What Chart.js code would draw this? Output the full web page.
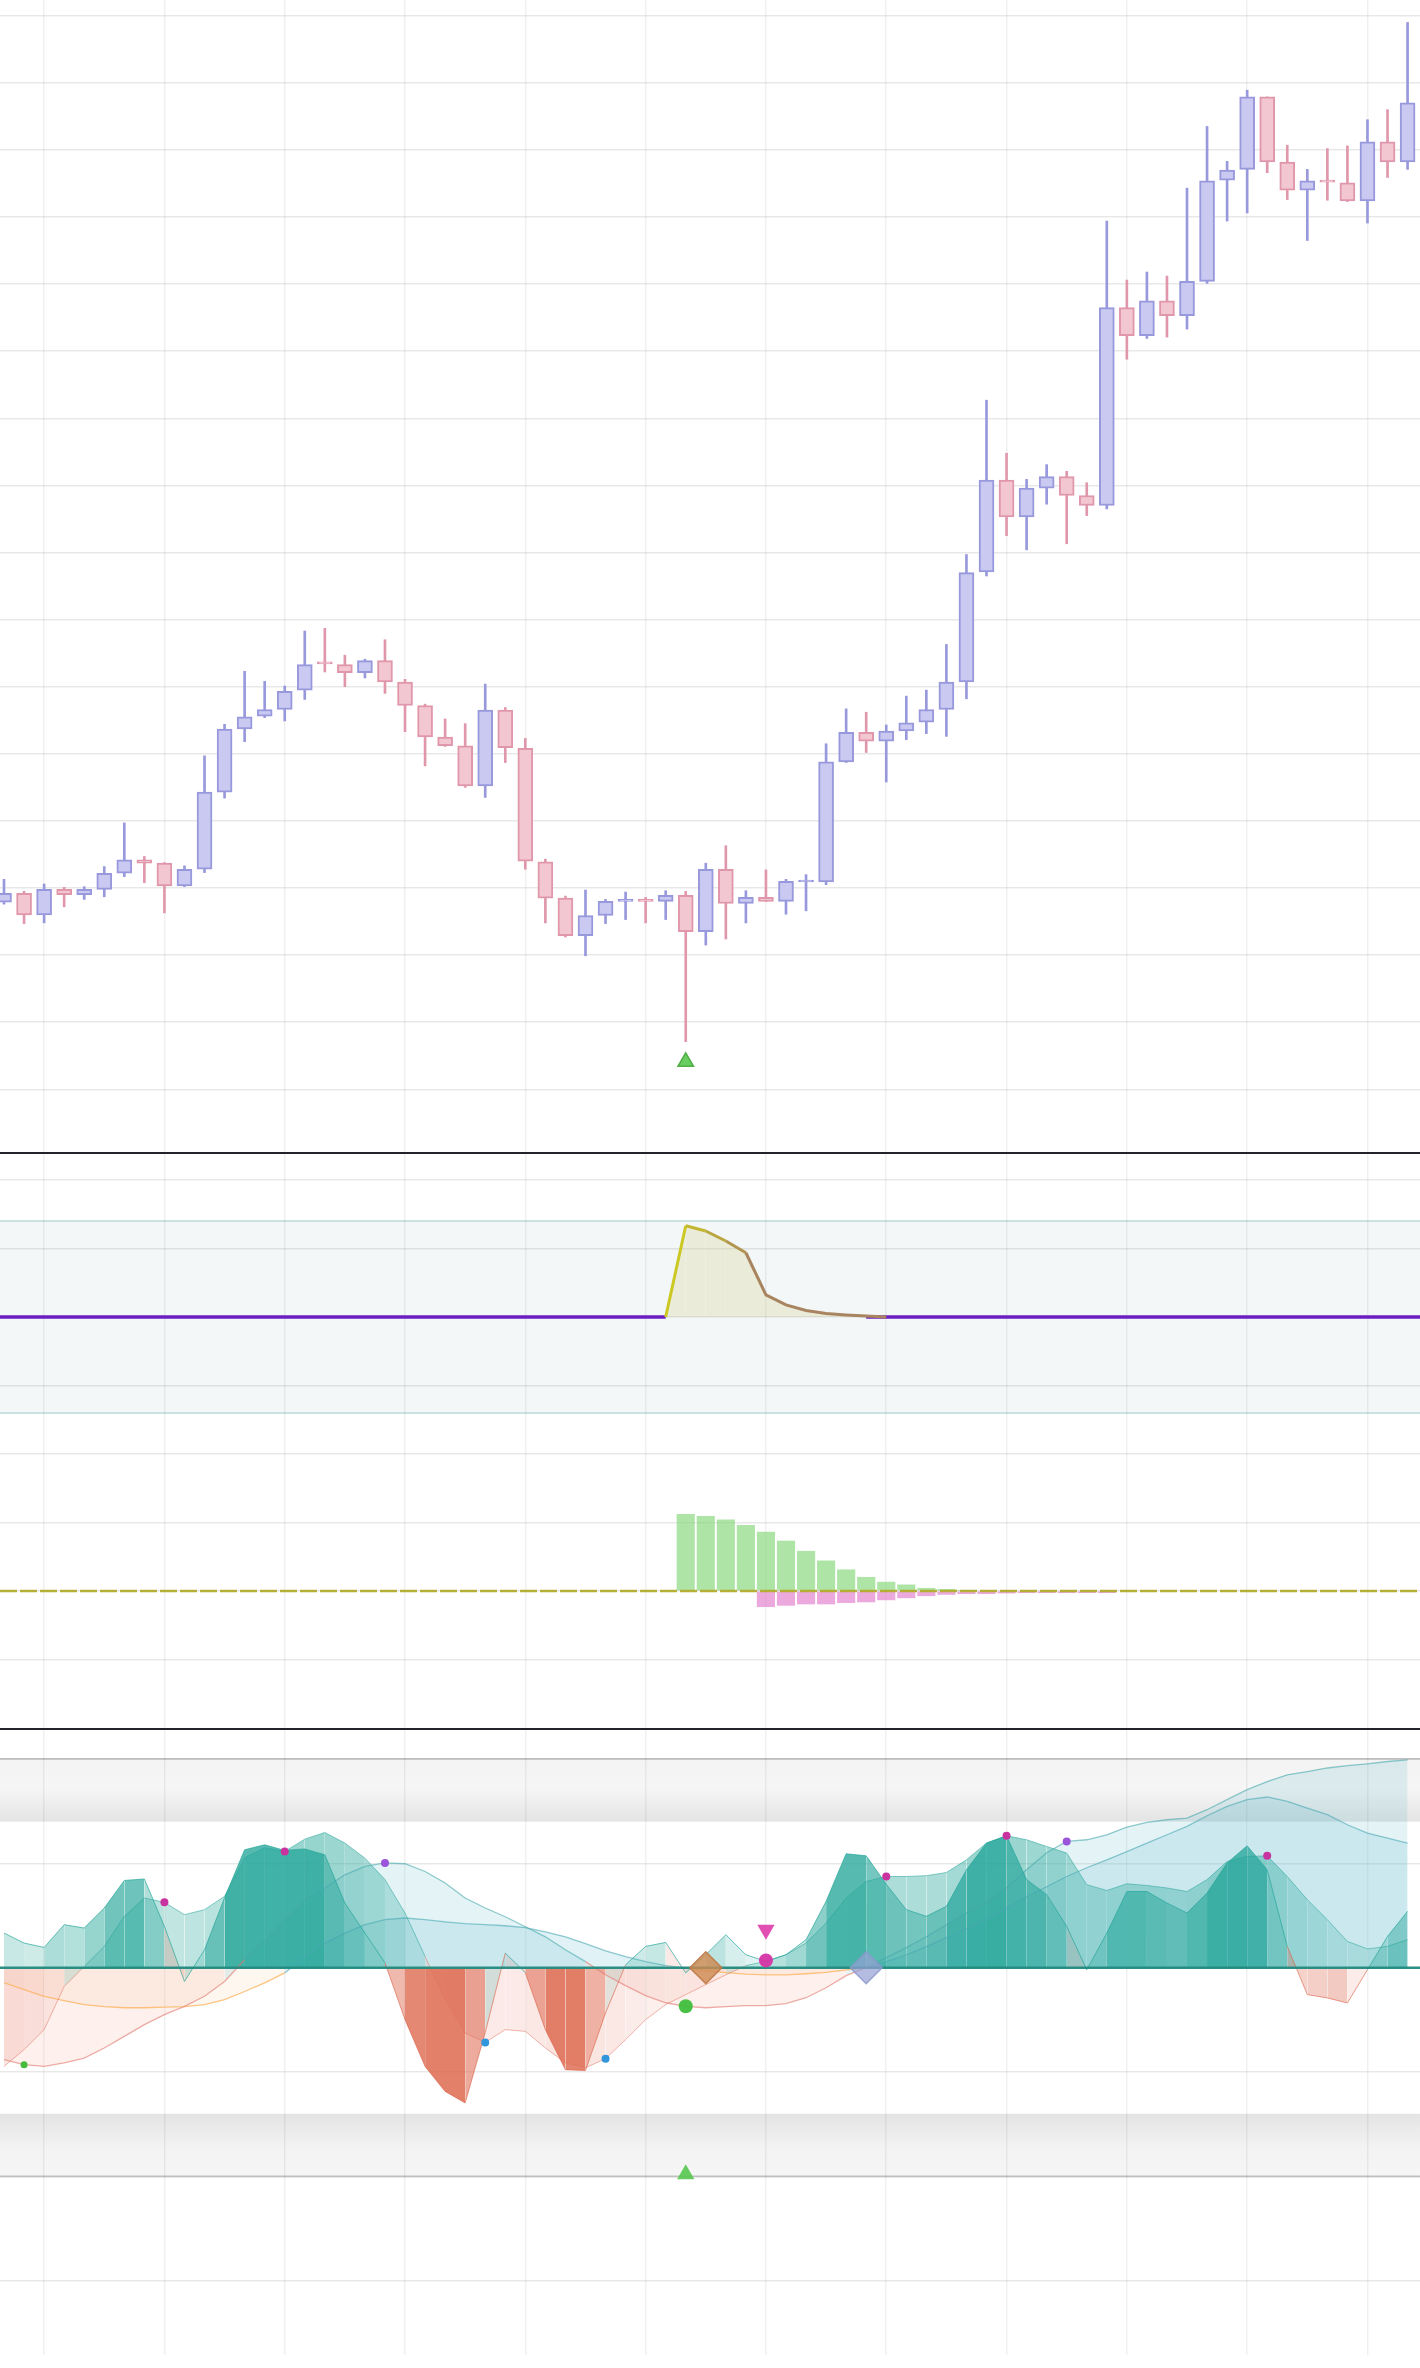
<!DOCTYPE html>
<html>
<head>
<meta charset="utf-8">
<script src="https://cdn.jsdelivr.net/npm/chart.js@4.4.1/dist/chart.umd.min.js"></script>
<style>
  html, body { margin: 0; padding: 0; background: #fff; }
  #wrap { position: relative; width: 1420px; height: 2368px; overflow: hidden; background: #fff; }
  .pane { position: absolute; left: 0; width: 1420px; }
  .sep { position: absolute; left: 0; width: 1420px; height: 2px; background: #23232b; }
</style>
</head>
<body>
<div id="wrap">
  <div class="pane" style="top:0;height:1152px"><canvas id="price"></canvas></div>
  <div class="sep" style="top:1152px"></div>
  <div class="pane" style="top:1154px;height:266px"><canvas id="osc"></canvas></div>
  <div class="pane" style="top:1420px;height:308px"><canvas id="hist"></canvas></div>
  <div class="sep" style="top:1728px"></div>
  <div class="pane" style="top:1730px;height:625px"><canvas id="wave"></canvas></div>
</div>
<script>
// ---- price pane (one candle per bar) ----
const open = [
  37.9, 39.2, 36.0, 39.8, 39.0, 39.8, 42.2, 44.2, 43.7, 40.3,
  42.8, 54.3, 63.7, 65.6, 66.6, 69.5, 73.6, 73.3, 72.1, 73.9,
  70.7, 67.2, 62.5, 61.2, 55.2, 66.5, 60.8, 43.9, 38.5, 32.9,
  35.9, 38.0, 38.3, 38.0, 38.9, 33.5, 42.8, 37.7, 38.6, 38.0,
  40.9, 40.9, 58.8, 63.2, 61.9, 63.4, 64.7, 66.6, 70.7, 87.1,
  100.8, 95.3, 99.6, 101.3, 98.5, 97.0, 126.5, 122.3, 127.5, 125.3,
  130.4, 145.5, 147.1, 157.9, 148.2, 144.0, 145.4, 145.1, 142.4, 151.2, 148.2
];
const high = [
  41.3, 39.5, 40.6, 40.1, 40.2, 43.2, 49.7, 44.7, 43.8, 43.3,
  59.7, 64.4, 72.3, 70.8, 70.1, 78.3, 78.7, 74.7, 74.1, 77.0,
  71.1, 67.4, 65.2, 64.5, 70.4, 66.9, 62.3, 44.3, 38.8, 39.7,
  38.3, 39.4, 38.6, 39.6, 39.5, 43.7, 46.3, 39.6, 42.7, 41.3,
  42.0, 61.5, 66.7, 66.2, 64.3, 68.6, 69.5, 76.3, 89.7, 112.7,
  104.8, 100.9, 103.1, 102.1, 100.4, 139.4, 130.6, 131.8, 131.2, 144.3,
  153.5, 148.3, 158.9, 157.9, 150.7, 147.1, 150.2, 150.6, 154.5, 156.0, 169.0
];
const low = [
  37.6, 34.7, 34.8, 37.2, 38.3, 38.7, 41.7, 40.8, 36.3, 40.2,
  42.3, 53.4, 61.8, 65.4, 64.9, 68.1, 72.2, 70.0, 71.3, 69.0,
  63.3, 58.2, 61.1, 55.0, 53.5, 58.7, 42.8, 34.8, 32.7, 29.9,
  34.7, 35.3, 34.8, 35.3, 17.1, 31.5, 32.4, 34.8, 38.0, 36.1,
  36.6, 40.5, 58.7, 60.2, 55.8, 62.1, 63.0, 62.6, 68.2, 86.5,
  92.5, 90.4, 97.2, 91.3, 95.5, 96.5, 118.8, 121.9, 122.1, 123.3,
  130.1, 139.4, 140.6, 146.6, 142.6, 136.5, 142.5, 142.3, 139.1, 145.9, 147.1
];
const close = [
  39.2, 36.0, 39.8, 39.0, 39.8, 42.2, 44.2, 43.7, 40.3, 42.8,
  54.3, 63.7, 65.5, 66.6, 69.3, 73.3, 73.4, 72.1, 73.9, 70.7,
  67.2, 62.5, 61.2, 55.2, 66.5, 60.9, 44.0, 38.5, 32.9, 35.9,
  38.0, 38.3, 38.0, 38.9, 33.5, 42.8, 37.7, 38.6, 38.0, 41.0,
  41.2, 58.8, 63.2, 61.9, 63.4, 64.6, 66.6, 70.7, 87.0, 100.8,
  95.3, 99.6, 101.3, 98.5, 97.0, 126.5, 122.3, 127.5, 125.3, 130.4,
  145.4, 147.0, 157.9, 148.2, 144.0, 145.4, 145.2, 142.4, 151.2, 148.2, 157.0
];
const bars = open.map((_, i) => i);
const priceTicks = [10, 20, 30, 40, 50, 60, 70, 80, 90, 100, 110, 120, 130, 140, 150, 160, 170];
const gridBars = [2, 8, 14, 20, 26, 32, 38, 44, 50, 56, 62, 68];
const buySignal = [34, 14.1];

// ---- oscillator pane ----
const oscBars = [33, 34, 35, 36, 37, 38, 39, 40, 41, 42, 43, 44];
const oscValues = [0, 66.6, 62.8, 55.5, 46.9, 16.1, 8.8, 4.7, 2.6, 1.5, 0.7, 0];
const oscTicks = [-50, 0, 50, 100];
const oscBand = [-70, 70];

// ---- histogram pane ----
const histUpBars = [34, 35, 36, 37, 38, 39, 40, 41, 42, 43, 44, 45, 46, 47, 48];
const histUp = [11.2, 10.9, 10.4, 9.6, 8.6, 7.3, 5.8, 4.4, 3.1, 2.0, 1.3, 0.9, 0.4, 0.25, 0.1];
const histDownBars = [38, 39, 40, 41, 42, 43, 44, 45, 46, 47, 48, 49, 50, 51, 52, 53, 54, 55];
const histDown = [-2.3, -2.1, -1.9, -1.9, -1.7, -1.6, -1.3, -1.0, -0.7, -0.5, -0.4, -0.4, -0.3, -0.25, -0.25, -0.25, -0.25, -0.25];
const histTicks = [-10, 0, 10, 20];

// ---- wave pane ----
const waveFast = [
  16.6, 11.8, 9.7, 20.6, 19.0, 28.6, 41.8, 42.5, 19.8, -6.6,
  8.6, 33.5, 56.5, 58.9, 56.2, 56.9, 54.1, 31.0, 16.6, 2.3,
  -24.9, -47.3, -59.3, -64.8, -31.1, 7.0, -2.4, -29.7, -48.9, -49.3,
  -21.7, 1.4, 10.2, 12.1, -2.5, 6.2, 15.8, 6.2, 3.0, 6.2,
  13.4, 31.8, 54.6, 53.6, 40.0, 27.8, 24.6, 29.4, 46.9, 59.7,
  63.2, 42.2, 35.0, 19.8, -1.0, 16.6, 36.5, 36.5, 31.0, 26.2,
  35.8, 50.2, 58.4, 46.9, 10.2, -12.9, -14.5, -16.9, -1.0, 15.0, 27.0
];
const waveSlow = [
  -47.3, -39.3, -29.7, -9.0, 0.6, 10.2, 24.6, 33.4, 31.3, 25.4,
  27.8, 34.2, 52.7, 57.5, 55.7, 61.6, 64.8, 59.7, 52.5, 42.2,
  26.2, 5.4, -15.3, -31.3, -35.8, -29.7, -30.5, -38.5, -45.6, -48.0,
  -43.6, -34.5, -24.9, -17.7, -12.9, -8.1, -3.4, 1.0, 3.0, 6.2,
  11.8, 21.4, 33.4, 41.3, 43.7, 43.7, 44.1, 45.6, 51.7, 59.7,
  63.2, 61.3, 58.1, 54.9, 39.8, 37.0, 40.2, 39.4, 38.2, 36.5,
  42.2, 50.9, 53.3, 53.6, 43.7, 32.6, 23.0, 12.6, 9.0, 10.2, 13.4
];
const avgFast = [
  -44.1, -46.5, -47.3, -45.6, -43.3, -38.5, -32.9, -27.3, -22.5, -18.5,
  -13.7, -6.6, 3.8, 13.4, 23.0, 32.6, 38.2, 44.5, 48.5, 50.2,
  49.8, 46.1, 40.6, 33.4, 28.6, 24.4, 19.6, 14.8, 8.6, 2.9,
  -3.4, -8.6, -13.4, -16.8, -18.5, -19.2, -18.7, -18.2, -18.2, -17.2,
  -14.4, -9.6, -3.8, 0.0, 4.8, 9.6, 14.8, 20.6, 26.3, 31.1,
  38.3, 46.9, 55.1, 60.5, 61.3, 63.7, 67.4, 69.6, 70.9, 71.7,
  75.7, 80.5, 85.3, 89.2, 92.4, 94.0, 95.7, 96.8, 97.7, 98.8, 99.6
];
const avgSlow = [
  -7.2, -10.5, -13.7, -15.8, -17.7, -18.7, -19.2, -19.2, -18.9, -18.7,
  -17.7, -15.3, -11.4, -7.3, -2.5, 5.4, 11.8, 16.6, 20.6, 23.0,
  23.8, 23.0, 22.0, 21.1, 20.6, 20.1, 19.2, 17.2, 14.8, 11.5,
  8.1, 5.3, 2.9, 1.0, -0.2, -1.4, -2.4, -3.1, -3.4, -3.4,
  -2.9, -2.2, -1.0, 0.0, 2.9, 6.2, 10.1, 14.4, 18.7, 23.0,
  28.7, 34.0, 38.8, 43.7, 47.9, 51.7, 55.6, 59.7, 63.7, 67.7,
  72.8, 77.3, 80.5, 81.8, 79.7, 76.5, 73.3, 68.5, 64.5, 62.1, 59.7
];
const waveTicks = [-150, -100, -50, 0, 50, 100];
const waveBand = [70, 100];
const dotsMagenta = [[8, 31.3], [14, 55.7], [44, 43.7], [50, 63.2], [63, 53.6]];
const dotsPurple = [[19, 50.2], [53, 60.5]];
const dotsBlue = [[24, -35.8], [30, -43.6]];
const dotsGreen = [[1, -46.5]];
const crossBuy = [[34, -18.5]];
const crossSell = [[38, 3.5]];
const arrowSell = [[38, 18.2]];
const arrowBuy = [[34, -99]];
const diamondDown = [[35, 0]];
const diamondUp = [[43, 0]];

// ---- shared scale setup ----
const X_MIN = -0.2, X_MAX = 70.62;

function xScale() {
  return {
    type: 'linear', min: X_MIN, max: X_MAX, offset: false,
    afterBuildTicks: s => { s.ticks = gridBars.map(v => ({ value: v })); },
    ticks: { display: false },
    grid: { color: 'rgba(0,0,0,0.06)', lineWidth: 1.5, drawTicks: false, offset: false },
    border: { display: false }
  };
}
function yScale(min, max, ticks) {
  return {
    type: 'linear', min, max,
    afterBuildTicks: s => { s.ticks = ticks.map(v => ({ value: v })); },
    ticks: { display: false },
    grid: { color: 'rgba(0,0,0,0.09)', lineWidth: 1.5, drawTicks: false },
    border: { display: false }
  };
}
function baseOptions(extra) {
  return Object.assign({
    responsive: true,
    maintainAspectRatio: false,
    animation: false,
    events: [],
    layout: { padding: 0, autoPadding: false },
    elements: { point: { radius: 0 } },
    plugins: { legend: { display: false }, tooltip: { enabled: false } }
  }, extra);
}
const pts = list => list.map(([x, y]) => ({ x, y }));
function marker(list, style, r, fill, border, rot) {
  return {
    type: 'line', data: pts(list), showLine: false,
    pointStyle: style, pointRadius: r, pointRotation: rot || 0,
    pointBackgroundColor: fill, pointBorderColor: border || fill,
    pointBorderWidth: border ? 1.5 : 0
  };
}

// ---- price chart ----
const isUp = bars.map(i => close[i] >= open[i]);
new Chart(document.getElementById('price'), {
  type: 'bar',
  data: {
    datasets: [
      Object.assign(marker([buySignal], 'triangle', 9, 'rgba(98,202,88,0.95)', 'rgba(70,170,60,0.9)'), { type: 'scatter' }),
      {
        data: bars.map(i => ({ x: i, y: [open[i], close[i]] })),
        backgroundColor: isUp.map(u => u ? '#c9c9f1' : '#f3c7d1'),
        borderColor: isUp.map(u => u ? '#9898dd' : '#e097ab'),
        borderWidth: 2, borderSkipped: false, barThickness: 15, grouped: false, minBarLength: 2
      },
      {
        data: bars.map(i => ({ x: i, y: [low[i], high[i]] })),
        backgroundColor: isUp.map(u => u ? '#9898dd' : '#e097ab'),
        borderWidth: 0, barThickness: 2, grouped: false
      }
    ]
  },
  options: baseOptions({ scales: { x: xScale(), y: yScale(0.66, 172.34, priceTicks) } })
});

// ---- oscillator chart ----
const oscBandPlugin = {
  id: 'oscBand',
  beforeDraw(chart) {
    const { ctx, chartArea: a, scales: { y } } = chart;
    const top = y.getPixelForValue(oscBand[1]), bot = y.getPixelForValue(oscBand[0]);
    ctx.save();
    ctx.fillStyle = '#f4f7f7';
    ctx.fillRect(a.left, top, a.right - a.left, bot - top);
    ctx.strokeStyle = 'rgba(165,208,204,0.75)';
    ctx.lineWidth = 1.5;
    [top, bot].forEach(p => { ctx.beginPath(); ctx.moveTo(a.left, p); ctx.lineTo(a.right, p); ctx.stroke(); });
    ctx.restore();
  }
};
function oscColor(t) {
  const a = [204, 200, 34], b = [168, 132, 96];
  return 'rgb(' + a.map((v, k) => Math.round(v + (b[k] - v) * t)).join(',') + ')';
}
const gapFrom = oscBars[0], gapTo = oscBars[oscBars.length - 2];
const baseline = [{ x: X_MIN, y: 0 }].concat(bars.map(i => ({ x: i, y: (i > gapFrom && i < gapTo) ? null : 0 })), [{ x: X_MAX, y: 0 }]);
new Chart(document.getElementById('osc'), {
  type: 'line',
  data: {
    datasets: [
      {
        data: oscBars.map((i, k) => ({ x: i, y: oscValues[k] })),
        borderWidth: 3, fill: 'origin', backgroundColor: 'rgba(214,208,150,0.3)',
        segment: { borderColor: c => oscColor(Math.min(1, c.p0DataIndex / 4)) }
      },
      { data: baseline, borderColor: '#6b1fc1', borderWidth: 3.5, spanGaps: false }
    ]
  },
  options: baseOptions({ scales: { x: xScale(), y: yScale(-75.2, 119.0, oscTicks) } }),
  plugins: [oscBandPlugin]
});

// ---- histogram chart ----
new Chart(document.getElementById('hist'), {
  type: 'bar',
  data: {
    datasets: [
      {
        type: 'line', data: [{ x: X_MIN, y: 0 }, { x: X_MAX, y: 0 }],
        borderColor: 'rgba(178,172,45,0.95)', borderWidth: 2.5, borderDash: [17, 3]
      },
      {
        data: histUpBars.map((i, k) => ({ x: i, y: histUp[k] })),
        backgroundColor: 'rgba(130,215,120,0.65)', barThickness: 17.5, grouped: false
      },
      {
        data: histDownBars.map((i, k) => ({ x: i, y: histDown[k] })),
        backgroundColor: 'rgba(222,112,200,0.6)', barThickness: 17.5, grouped: false
      }
    ]
  },
  options: baseOptions({ scales: { x: xScale(), y: yScale(-20.0, 24.96, histTicks) } })
});

// ---- wave chart ----
const waveBandPlugin = {
  id: 'waveBand',
  beforeDraw(chart) {
    const { ctx, chartArea: a, scales: { y } } = chart;
    const w = a.right - a.left;
    const t1 = y.getPixelForValue(waveBand[1]), t2 = y.getPixelForValue(waveBand[0]);
    const b1 = y.getPixelForValue(-waveBand[0]), b2 = y.getPixelForValue(-waveBand[1]);
    ctx.save();
    let g = ctx.createLinearGradient(0, t1, 0, t2);
    g.addColorStop(0, '#f3f3f3'); g.addColorStop(0.45, '#f6f6f6'); g.addColorStop(1, '#e4e4e4');
    ctx.fillStyle = g; ctx.fillRect(a.left, t1, w, t2 - t1);
    g = ctx.createLinearGradient(0, b1, 0, b2);
    g.addColorStop(0, '#e4e4e4'); g.addColorStop(0.55, '#f3f3f3'); g.addColorStop(1, '#f6f6f6');
    ctx.fillStyle = g; ctx.fillRect(a.left, b1, w, b2 - b1);
    ctx.strokeStyle = '#d2d2d2'; ctx.lineWidth = 2;
    [t1, b2].forEach(p => { ctx.beginPath(); ctx.moveTo(a.left, p); ctx.lineTo(a.right, p); ctx.stroke(); });
    ctx.restore();
  }
};
const TEAL = '38,166,154', RED = '218,92,64';
function signOf(c) { return (c.p0.parsed.y + c.p1.parsed.y) / 2 >= 0; }
function waveSeries(values, line, fill, width) {
  return {
    data: bars.map(i => ({ x: i, y: values[i] })),
    borderWidth: width, fill: 'origin',
    segment: { borderColor: line, backgroundColor: fill }
  };
}
new Chart(document.getElementById('wave'), {
  type: 'line',
  data: {
    datasets: [
      marker(arrowSell, 'triangle', 10, 'rgba(222,60,170,0.9)', null, 180),
      marker(crossSell, 'circle', 7, 'rgba(214,52,165,0.95)'),
      marker(crossBuy, 'circle', 7, 'rgba(62,190,60,0.95)'),
      marker(arrowBuy, 'triangle', 10, 'rgba(88,200,80,0.9)'),
      marker(diamondDown, 'rectRot', 16, 'rgba(206,136,80,0.8)', 'rgba(190,120,70,0.9)'),
      marker(diamondUp, 'rectRot', 16, 'rgba(150,160,212,0.7)', 'rgba(140,150,205,0.8)'),
      marker(dotsMagenta, 'circle', 4, '#c8339f'),
      marker(dotsPurple, 'circle', 4, '#9a55db'),
      marker(dotsBlue, 'circle', 4, '#3196dc'),
      marker(dotsGreen, 'circle', 3.5, '#45bb3c'),
      { data: [{ x: X_MIN, y: 0 }, { x: X_MAX, y: 0 }], borderColor: 'rgba(34,138,128,0.95)', borderWidth: 2.5 },
      waveSeries(waveFast,
        c => signOf(c) ? 'rgba(' + TEAL + ',0.7)' : 'rgba(' + RED + ',0.6)',
        c => {
          const v = c.p1.parsed.y, a = Math.min(0.78, 0.1 + Math.abs(v) / 75);
          return 'rgba(' + (v >= 0 ? TEAL : RED) + ',' + a.toFixed(3) + ')';
        }, 1),
      waveSeries(waveSlow,
        c => signOf(c) ? 'rgba(' + TEAL + ',0.55)' : 'rgba(225,112,92,0.5)',
        c => {
          const v = c.p1.parsed.y;
          return v >= 0
            ? 'rgba(' + TEAL + ',' + (0.16 + v / 200).toFixed(3) + ')'
            : 'rgba(232,130,110,' + (0.08 - v / 350).toFixed(3) + ')';
        }, 1),
      waveSeries(avgFast,
        c => signOf(c) ? 'rgba(70,168,172,0.6)' : 'rgba(225,120,110,0.6)',
        c => c.p1.parsed.y >= 0 ? 'rgba(85,182,198,0.16)' : 'rgba(238,150,130,0.14)', 1.3),
      waveSeries(avgSlow,
        c => signOf(c) ? 'rgba(72,168,178,0.6)' : 'rgba(252,178,88,0.75)',
        c => c.p1.parsed.y >= 0 ? 'rgba(85,182,198,0.18)' : 'rgba(250,192,135,0.12)', 1.3)
    ]
  },
  options: baseOptions({
    plugins: { legend: { display: false }, tooltip: { enabled: false }, filler: { drawTime: 'beforeDatasetsDraw' } },
    scales: { x: xScale(), y: yScale(-185.6, 113.9, waveTicks) }
  }),
  plugins: [waveBandPlugin]
});
</script>
</body>
</html>
